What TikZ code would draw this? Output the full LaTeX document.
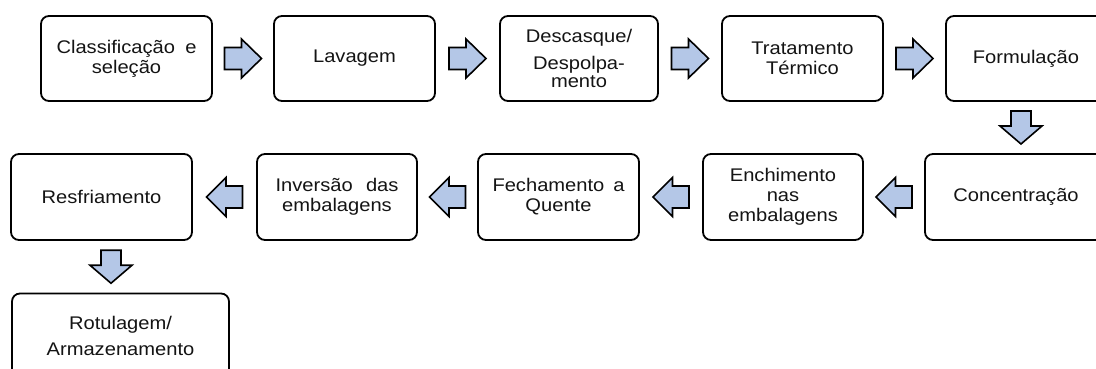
\documentclass[tikz,border=0pt]{standalone}
\usepackage{fontspec}
\setmainfont{Liberation Sans}[FakeStretch=1.1]
\usetikzlibrary{calc}
\definecolor{arrowfill}{RGB}{180,199,231}
\definecolor{txt}{RGB}{20,20,20}
\tikzset{
  box/.style={draw=black, line width=1.8pt, rounded corners=8pt, inner sep=0pt,
    align=center, text=txt, font=\fontsize{18.3}{20}\selectfont},
  blockarrow/.style={draw=black, line width=1.6pt, fill=arrowfill, line join=miter},
  rarr/.pic={\path[blockarrow] (-18.5,-11) -- (-1.5,-11) -- (-1.5,-19.5) -- (18.5,0)
     -- (-1.5,19.5) -- (-1.5,11) -- (-18.5,11) -- cycle;},
  larr/.pic={\path[blockarrow] (18,-11) -- (1.5,-11) -- (1.5,-19.5) -- (-18,0)
     -- (1.5,19.5) -- (1.5,11) -- (18,11) -- cycle;},
  darr/.pic={\path[blockarrow] (-10,-16.5) -- (10,-16.5) -- (10,-1.5) -- (21,-1.5)
     -- (0,16.5) -- (-21,-1.5) -- (-10,-1.5) -- cycle;},
}
\begin{document}
\begin{tikzpicture}[x=1pt,y=-1pt]
\clip (0,0) rectangle (1096,369);
\fill[white] (0,0) rectangle (1096,369);
% row 1
\node[box, minimum width=171pt, minimum height=85pt] (b1) at (126.5,58.5)
  {\makebox[140pt][s]{Classificação e}\\seleção};
\node[box, minimum width=161pt, minimum height=85pt] (b2) at (354.5,58.5) {Lavagem};
\node[box, minimum width=158pt, minimum height=85pt] (b3) at (579,58.5)
  {Descasque/\\[7pt]Despolpa-\\[-2.5pt]mento};
\node[box, minimum width=161pt, minimum height=85pt] (b4) at (802.5,58.5) {Tratamento\\Térmico};
\node[box, minimum width=160pt, minimum height=85pt] (b5) at (1026,58.5) {Formulação};
% row 2
\node[box, minimum width=182pt, minimum height=86pt] (c1) at (1016,197) {Concentração};
\node[box, minimum width=160pt, minimum height=86pt] (c2) at (783,197) {Enchimento\\nas\\embalagens};
\node[box, minimum width=161pt, minimum height=86pt] (c3) at (558.5,197)
  {\makebox[132pt][s]{Fechamento a}\\Quente};
\node[box, minimum width=160pt, minimum height=86pt] (c4) at (337,197)
  {\makebox[123pt][s]{Inversão das}\\embalagens};
\node[box, minimum width=181pt, minimum height=86pt] (c5) at (101.5,197) {Resfriamento};
% row 3
\node[box, minimum width=217pt, minimum height=85pt] (d1) at (120.5,336)
  {Rotulagem/\\[6pt]Armazenamento};
% arrows
\pic at ($(b1.east)!0.5!(b2.west)$) {rarr};
\pic at ($(b2.east)!0.5!(b3.west)$) {rarr};
\pic at ($(b3.east)!0.5!(b4.west)$) {rarr};
\pic at ($(b4.east)!0.5!(b5.west)$) {rarr};
\pic at ($(b5.south)!0.5!(c1.north)$) {darr};
\pic at ($(c1.west)!0.5!(c2.east)$) {larr};
\pic at ($(c2.west)!0.5!(c3.east)$) {larr};
\pic at ($(c3.west)!0.5!(c4.east)$) {larr};
\pic at ($(c4.west)!0.5!(c5.east)$) {larr};
\pic at ($(c5.south)!0.5!(d1.north)$) {darr};
\end{tikzpicture}
\end{document}
